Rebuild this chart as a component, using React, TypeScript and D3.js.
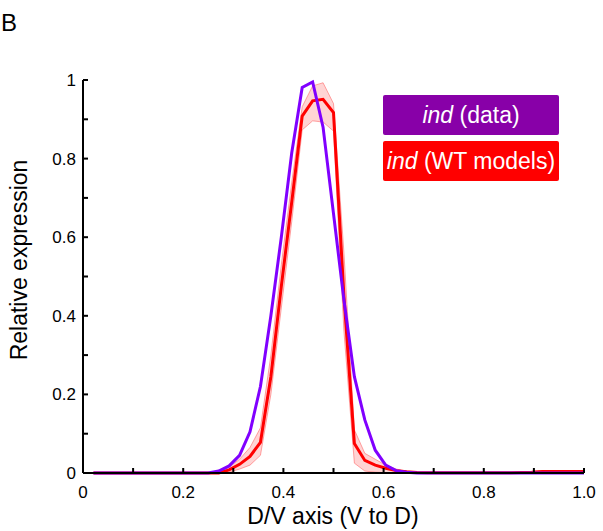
import React from "react";
import * as d3 from "d3";

// x grid: i/48 for i = 1..48
const xs: number[] = d3.range(1, 49).map((i) => i / 48);

const dataSeries: number[] = [
  0, 0, 0, 0, 0, 0, 0, 0, 0, 0, 0, 0, // 1-12
  0.005, 0.018, 0.045, 0.105, 0.22, 0.4, 0.6, 0.815, 0.981, 0.995, 0.88, 0.66, // 13-24
  0.44, 0.245, 0.135, 0.058, 0.02, 0.006, 0.002, 0, 0, 0, 0, 0, // 25-36
  0, 0, 0, 0, 0, 0, 0, 0, 0, 0, 0, 0, // 37-48
];

const modelMean: number[] = [
  0, 0, 0, 0, 0, 0, 0, 0, 0, 0, 0, 0,
  0, 0.008, 0.022, 0.042, 0.078, 0.245, 0.475, 0.69, 0.908, 0.947, 0.951, 0.917,
  0.45, 0.075, 0.032, 0.02, 0.012, 0.006, 0.003, 0.001, 0.0005, 0.0005, 0.0005, 0.0005,
  0.0005, 0.0005, 0.0005, 0.0005, 0.0005, 0.001, 0.002, 0.004, 0.004, 0.004, 0.004, 0.004,
];

const modelLow: number[] = [
  0, 0, 0, 0, 0, 0, 0, 0, 0, 0, 0, 0,
  0, 0.002, 0.01, 0.02, 0.045, 0.2, 0.42, 0.64, 0.873, 0.896, 0.893, 0.87,
  0.36, 0.025, 0.005, 0.002, 0.001, 0, 0, 0, 0, 0, 0, 0,
  0, 0, 0, 0, 0, 0, 0, 0, 0, 0, 0, 0,
];

const modelHigh: number[] = [
  0, 0, 0, 0, 0, 0, 0, 0, 0, 0, 0, 0,
  0.001, 0.015, 0.035, 0.065, 0.115, 0.3, 0.53, 0.74, 0.932, 0.985, 0.993, 0.94,
  0.56, 0.11, 0.05, 0.035, 0.02, 0.01, 0.005, 0.002, 0.001, 0.001, 0.001, 0.001,
  0.001, 0.001, 0.001, 0.001, 0.001, 0.002, 0.004, 0.006, 0.006, 0.006, 0.006, 0.006,
];

const tickValues: number[] = d3.range(0, 11).map((i) => i / 10);
const xTickLabels: string[] = ["0", "0.2", "0.4", "0.6", "0.8", "1.0"];
const yTickLabels: string[] = ["0", "0.2", "0.4", "0.6", "0.8", "1"];
const labelValues: number[] = [0, 0.2, 0.4, 0.6, 0.8, 1];

const legendLabels: { italic: string; rest: string; color: string }[] = [
  { italic: "ind", rest: " (data)", color: "#8800a8" },
  { italic: "ind", rest: " (WT models)", color: "#ff0000" },
];

const W = 603;
const H = 531;
const FONT = "'Liberation Sans', Arial, sans-serif";

export default function App() {
  const x = d3.scaleLinear().domain([0, 1]).range([83, 584]);
  const y = d3.scaleLinear().domain([0, 1]).range([473, 80]);

  const idx = xs.map((_, i) => i);
  const line = (vals: number[]) =>
    d3
      .line<number>()
      .x((i) => x(xs[i]))
      .y((i) => y(vals[i]))(idx) as string;
  const band = d3
    .area<number>()
    .x((i) => x(xs[i]))
    .y0((i) => y(modelLow[i]))
    .y1((i) => y(modelHigh[i]))(idx) as string;

  return (
    <svg
      width={W}
      height={H}
      style={{ position: "absolute", left: 0, top: 0, background: "#fff" }}
      fontFamily={FONT}
    >
      <rect x={0} y={0} width={W} height={H} fill="#fff" />
      <text x={1} y={31} fontSize={24} fill="#000">B</text>

      {/* band */}
      <path d={band} fill="rgba(255,0,0,0.17)" stroke="rgba(255,80,80,0.5)" strokeWidth={1} />
      <path d={line(modelMean)} fill="none" stroke="#ff0000" strokeWidth={3} strokeLinejoin="miter" />
      <path d={line(dataSeries)} fill="none" stroke="#8000ff" strokeWidth={3} strokeLinejoin="miter" />

      {/* axes */}
      <line x1={x(0)} x2={x(1)} y1={y(0)} y2={y(0)} stroke="#000" strokeWidth={2} />
      <line x1={x(0)} x2={x(0)} y1={y(0)} y2={y(1)} stroke="#000" strokeWidth={2} />
      {tickValues.map((t) => (
        <g key={"t" + t}>
          <line x1={x(t)} x2={x(t)} y1={y(0)} y2={y(0) - 5} stroke="#000" strokeWidth={2} />
          <line x1={x(0)} x2={x(0) + 5} y1={y(t)} y2={y(t)} stroke="#000" strokeWidth={2} />
        </g>
      ))}
      {labelValues.map((v, i) => (
        <text key={"xl" + i} x={x(v)} y={498} fontSize={17} textAnchor="middle" fill="#000">
          {xTickLabels[i]}
        </text>
      ))}
      {labelValues.map((v, i) => (
        <text key={"yl" + i} x={76} y={y(v) + 6} fontSize={17} textAnchor="end" fill="#000">
          {yTickLabels[i]}
        </text>
      ))}
      <text x={333} y={524} fontSize={23} textAnchor="middle" fill="#000">
        D/V axis (V to D)
      </text>
      <text
        transform={`translate(27,260) rotate(-90)`}
        fontSize={23}
        textAnchor="middle"
        fill="#000"
      >
        Relative expression
      </text>

      {/* legend */}
      {legendLabels.map((l, i) => (
        <g key={"lg" + i} transform={`translate(383,${95 + i * 46})`}>
          <rect x={0} y={0} width={176} height={40} rx={2} fill={l.color} />
          <text x={88} y={28} fontSize={23} textAnchor="middle" fill="#fff">
            <tspan fontStyle="italic">{l.italic}</tspan>
            <tspan>{l.rest}</tspan>
          </text>
        </g>
      ))}
    </svg>
  );
}
